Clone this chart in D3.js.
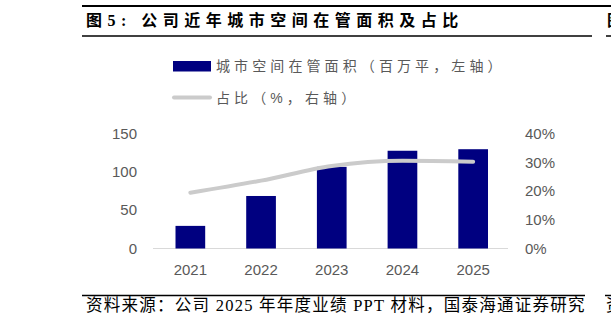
<!DOCTYPE html>
<html>
<head>
<meta charset="utf-8">
<script src="https://cdn.jsdelivr.net/npm/d3@7"></script>
<style>
  body { margin: 0; background: #fff; }
  svg { display: block; }
  .tick text { font-family: "Liberation Sans", Arial, sans-serif; font-size: 15px; fill: #595959; }
</style>
</head>
<body>
<div id="container"></div>
<script>
// 数据
var years = ["2021", "2022", "2023", "2024", "2025"];
var area = [29.5, 68.5, 106.5, 127.5, 129.5];        // 城市空间在管面积（百万平）
var share = [0.194, 0.236, 0.287, 0.305, 0.302];       // 占比
var leftTicks = [0, 50, 100, 150];
var rightTicks = [0, 0.1, 0.2, 0.3, 0.4];

var W = 611, H = 327;
var svg = d3.select("#container").append("svg")
  .attr("width", W).attr("height", H);

var cjk = "'Liberation Serif', 'Noto Sans CJK SC', serif";
var sans = "'Liberation Sans', 'Noto Sans CJK SC', sans-serif";

// 顶部线 + 标题
svg.append("line").attr("x1", 82).attr("x2", W).attr("y1", 6).attr("y2", 6)
  .attr("stroke", "#000").attr("stroke-width", 2);
svg.append("text")
  .attr("x", 86).attr("y", 26)
  .style("font-family", cjk).style("font-weight", "bold")
  .style("font-size", "16px").style("letter-spacing", "5.5px")
  .text("图5: 公司近年城市空间在管面积及占比");
svg.append("line").attr("x1", 82).attr("x2", 592).attr("y1", 36).attr("y2", 36)
  .attr("stroke", "#000").attr("stroke-width", 1.5);
// 右侧相邻图的边缘
svg.append("line").attr("x1", 606).attr("x2", W).attr("y1", 36).attr("y2", 36)
  .attr("stroke", "#000").attr("stroke-width", 1.5);
svg.append("text").attr("x", 607).attr("y", 26)
  .style("font-family", cjk).style("font-weight", "bold").style("font-size", "16px")
  .text("图");

// 比例尺
var x = d3.scaleBand().domain(years).range([155, 508.5]).paddingInner(0.58).paddingOuter(0.29);
var yL = d3.scaleLinear().domain([0, 150]).range([248.5, 133.5]);
var yR = d3.scaleLinear().domain([0, 0.4]).range([248.5, 133.5]);

// 基线
svg.append("line").attr("x1", 153).attr("x2", 508).attr("y1", yL(0)).attr("y2", yL(0))
  .attr("stroke", "#d9d9d9").attr("stroke-width", 1);

// 柱
svg.append("g").selectAll("rect")
  .data(area).enter().append("rect")
  .attr("x", function(d, i) { return x(years[i]); })
  .attr("y", function(d) { return yL(d); })
  .attr("width", x.bandwidth())
  .attr("height", function(d) { return yL(0) - yL(d); })
  .attr("fill", "#000080");

// 折线
var line = d3.line()
  .x(function(d, i) { return x(years[i]) + x.bandwidth() / 2; })
  .y(function(d) { return yR(d); })
  .curve(d3.curveMonotoneX);
svg.append("path").datum(share)
  .attr("d", line)
  .attr("fill", "none").attr("stroke", "#cbcbcb")
  .attr("stroke-width", 4).attr("stroke-linecap", "round");

// 坐标轴
var axL = svg.append("g").attr("transform", "translate(137,0)")
  .call(d3.axisLeft(yL).tickValues(leftTicks).tickSize(0).tickPadding(0));
var axR = svg.append("g").attr("transform", "translate(525,0)")
  .call(d3.axisRight(yR).tickValues(rightTicks).tickSize(0).tickPadding(0).tickFormat(d3.format(".0%")));
var axB = svg.append("g").attr("transform", "translate(0,264)")
  .call(d3.axisBottom(x).tickSize(0).tickPadding(0));
[axL, axR, axB].forEach(function(a) { a.select(".domain").remove(); });
axB.selectAll("text").attr("dy", "0.71em");

// 图例
var lg = svg.append("g");
lg.append("rect").attr("x", 173).attr("y", 61).attr("width", 38).attr("height", 10.5).attr("fill", "#000080");
lg.append("text").attr("x", 216).attr("y", 71)
  .style("font-family", sans).style("font-size", "14px").style("fill", "#595959")
  .style("letter-spacing", "4.1px")
  .text("城市空间在管面积（百万平，左轴）");
lg.append("line").attr("x1", 174).attr("x2", 210).attr("y1", 97.5).attr("y2", 97.5)
  .attr("stroke", "#cbcbcb").attr("stroke-width", 4).attr("stroke-linecap", "round");
lg.append("text").attr("x", 216).attr("y", 103)
  .style("font-family", sans).style("font-size", "14px").style("fill", "#595959")
  .style("letter-spacing", "4.1px")
  .text("占比（%，右轴）");

// 资料来源
svg.append("line").attr("x1", 82).attr("x2", 585).attr("y1", 295.5).attr("y2", 295.5)
  .attr("stroke", "#000").attr("stroke-width", 1.5);
svg.append("text").attr("x", 86).attr("y", 311)
  .style("font-family", cjk).style("font-size", "16.5px").style("letter-spacing", "1.25px")
  .text("资料来源：公司 2025 年年度业绩 PPT 材料，国泰海通证券研究");
svg.append("line").attr("x1", 605).attr("x2", W).attr("y1", 295.5).attr("y2", 295.5)
  .attr("stroke", "#000").attr("stroke-width", 1.5);
svg.append("text").attr("x", 606).attr("y", 311)
  .style("font-family", cjk).style("font-size", "16.5px")
  .text("资");
</script>
</body>
</html>
